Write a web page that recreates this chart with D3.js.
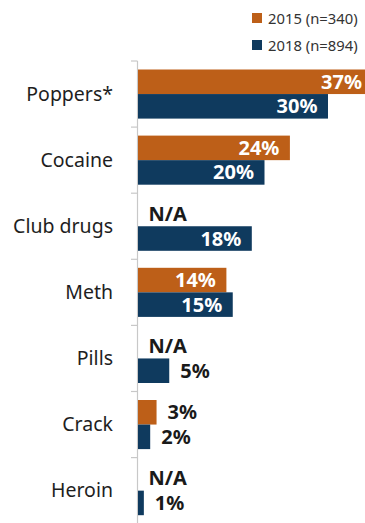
<!DOCTYPE html>
<html>
<head>
<meta charset="utf-8">
<script src="https://cdn.jsdelivr.net/npm/d3@7/dist/d3.min.js"></script>
<style>
  html, body { margin: 0; padding: 0; background: #fff; }
  svg { display: block; font-family: "Noto Sans", "Open Sans", sans-serif; }
</style>
</head>
<body>
<svg id="chart" width="365" height="523"></svg>
<script>
// Substance use by survey year (percent of respondents)
const categories = ["Poppers*", "Cocaine", "Club drugs", "Meth", "Pills", "Crack", "Heroin"];
const values2015 = [37, 24, null, 14, null, 3, null];
const values2018 = [30, 20, 18, 15, 5, 2, 1];
const seriesNames = ["2015 (n=340)", "2018 (n=894)"];
const seriesColors = ["#BD5F18", "#0F3A5E"];

const svg = d3.select("#chart");

const axisX = 137.5;
const x = d3.scaleLinear().domain([0, 37]).range([axisX, axisX + 37 * 6.35]);

const y = d3.scaleBand()
  .domain(categories)
  .range([61, 61 + 66.1 * categories.length])
  .paddingInner(0)
  .paddingOuter(0);

const groupPad = 8.5;
const barH = (y.bandwidth() - 2 * groupPad) / 2;

// Category axis: vertical line with tick marks between categories
const tickYs = categories.map(c => y(c)).concat([y(categories[categories.length - 1]) + y.bandwidth()]);
svg.append("line")
  .attr("x1", axisX).attr("x2", axisX)
  .attr("y1", y.range()[0]).attr("y2", y.range()[1])
  .attr("stroke", "#C8C8C8").attr("stroke-width", 1.2);
svg.selectAll("line.tick").data(tickYs).join("line")
  .attr("class", "tick")
  .attr("x1", axisX - 6.5).attr("x2", axisX)
  .attr("y1", d => d).attr("y2", d => d)
  .attr("stroke", "#C8C8C8").attr("stroke-width", 1.2);

// Category labels
svg.selectAll("text.cat").data(categories).join("text")
  .attr("class", "cat")
  .attr("x", 113)
  .attr("y", d => y(d) + y.bandwidth() / 2 + 6.5)
  .attr("text-anchor", "end")
  .attr("font-size", 19.5)
  .attr("fill", "#1e1e1e")
  .text(d => d);

const series = [values2015, values2018];
const labelFont = 20;
const insetMin = 50; // bars narrower than this get outside labels

series.forEach((vals, si) => {
  const rows = categories.map((c, i) => ({ c, v: vals[i] }));
  const top = d => y(d.c) + groupPad + si * barH;

  svg.selectAll("rect.s" + si).data(rows.filter(d => d.v != null)).join("rect")
    .attr("class", "s" + si)
    .attr("x", axisX + 0.5)
    .attr("y", d => top(d))
    .attr("width", d => x(d.v) - axisX - 0.5)
    .attr("height", barH)
    .attr("fill", seriesColors[si]);

  svg.selectAll("text.v" + si).data(rows).join("text")
    .attr("class", "v" + si)
    .attr("font-size", labelFont)
    .attr("font-weight", "bold")
    .attr("y", d => top(d) + barH / 2 + 7)
    .each(function(d) {
      const t = d3.select(this);
      if (d.v == null) {
        t.attr("x", axisX + 11).attr("text-anchor", "start").attr("fill", "#1a1a1a").text("N/A");
      } else if (x(d.v) - axisX > insetMin) {
        t.attr("x", x(d.v) - 10.5).attr("text-anchor", "end").attr("fill", "#ffffff").text(d.v + "%");
      } else {
        t.attr("x", x(d.v) + 11).attr("text-anchor", "start").attr("fill", "#1a1a1a").text(d.v + "%");
      }
    });
});

// Legend
const legend = svg.append("g");
seriesNames.forEach((name, i) => {
  legend.append("rect")
    .attr("x", 252).attr("y", 13 + i * 27)
    .attr("width", 10).attr("height", 10)
    .attr("fill", seriesColors[i]);
  legend.append("text")
    .attr("x", 268).attr("y", 23.5 + i * 27)
    .attr("font-size", 14.8)
    .attr("fill", "#333")
    .text(name);
});
</script>
</body>
</html>
